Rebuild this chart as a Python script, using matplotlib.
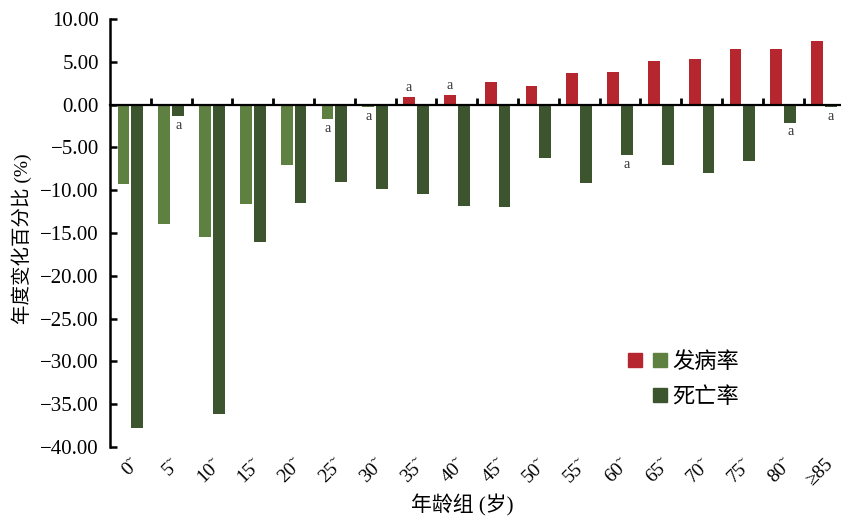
import numpy as np
import matplotlib
matplotlib.use('Agg')
import matplotlib.pyplot as plt
from matplotlib.patches import Patch
from matplotlib.legend_handler import HandlerTuple
from matplotlib.ticker import FuncFormatter

plt.rcParams['font.family'] = ['Liberation Serif', 'Noto Sans CJK SC', 'DejaVu Sans']

# age groups and annual percent change values
age_groups = ['0\u02dc', '5\u02dc', '10\u02dc', '15\u02dc', '20\u02dc', '25\u02dc',
              '30\u02dc', '35\u02dc', '40\u02dc', '45\u02dc', '50\u02dc', '55\u02dc',
              '60\u02dc', '65\u02dc', '70\u02dc', '75\u02dc', '80\u02dc', '≥85']
incidence = [-9.3, -13.9, -15.5, -11.6, -7.1, -1.7, -0.3, 0.9, 1.1,
             2.6, 2.2, 3.7, 3.8, 5.1, 5.3, 6.5, 6.5, 7.4]
mortality = [-37.8, -1.3, -36.1, -16.1, -11.5, -9.1, -9.9, -10.4, -11.8,
             -12.0, -6.2, -9.2, -5.9, -7.0, -8.0, -6.6, -2.1, -0.3]
# 1 = marked with "a"
inc_mark = [0, 0, 0, 0, 0, 1, 1, 1, 1, 0, 0, 0, 0, 0, 0, 0, 0, 0]
mort_mark = [0, 1, 0, 0, 0, 0, 0, 0, 0, 0, 0, 0, 1, 0, 0, 0, 1, 1]

red = '#B5262F'
light_green = '#5E8040'
dark_green = '#3D552E'

x = np.arange(len(age_groups))
w = 0.29
off = 0.17

fig = plt.figure(figsize=(8.41, 5.18), dpi=100)
ax = fig.add_axes([110/841, 71/518, 731/841, 428/518])

inc_colors = [red if v > 0 else light_green for v in incidence]
ax.bar(x - off, incidence, w, color=inc_colors, zorder=2)
ax.bar(x + off, mortality, w, color=dark_green, zorder=2)

for i in x:
    if inc_mark[i]:
        v = incidence[i]
        ax.annotate('a', (i - off, v), xytext=(0, 2 if v > 0 else -2),
                    textcoords='offset points', ha='center',
                    va='bottom' if v > 0 else 'top', fontsize=10, color='#333333')
    if mort_mark[i]:
        v = mortality[i]
        ax.annotate('a', (i + off, v), xytext=(0, 2 if v > 0 else -2),
                    textcoords='offset points', ha='center',
                    va='bottom' if v > 0 else 'top', fontsize=10, color='#333333')

ax.set_ylim(-40, 10)
ax.set_xlim(-0.5, -0.5 + 731/40.8)
ax.set_yticks(np.arange(-40, 11, 5))
ax.yaxis.set_major_formatter(FuncFormatter(lambda v, p: f'{v:.2f}'.replace('-', '\u2212')))
ax.tick_params(axis='y', direction='in', length=5, width=1.8, labelsize=15, pad=8)

# zero line with ticks between groups
ax.spines['bottom'].set_position(('data', 0))
ax.spines['bottom'].set_linewidth(1.6)
ax.spines['bottom'].set_zorder(3)
ax.spines['left'].set_linewidth(1.8)
ax.spines['top'].set_visible(False)
ax.spines['right'].set_visible(False)
ax.set_xticks(x[:-1] + 0.5)
ax.tick_params(axis='x', direction='in', length=5, width=2, labelbottom=False)

# category labels at the bottom
sec = ax.secondary_xaxis('bottom')
sec.set_xticks(x, labels=age_groups)
sec.spines['bottom'].set_visible(False)
sec.tick_params(length=0, pad=6, labelsize=14)
for lab in sec.get_xticklabels():
    lab.set_rotation(45)
    lab.set_ha('right')
    lab.set_va('top')
    lab.set_rotation_mode('anchor')

fig.text(462/841, 1 - 505/518, '年龄组 (岁)', fontsize=15, ha='center', va='center')

ax.set_ylabel('年度变化百分比 (%)', fontsize=14)
ax.yaxis.set_label_coords(-0.107, 0.486)

handles = [(Patch(color=red), Patch(color=light_green)),
           (Patch(facecolor='none', edgecolor='none'), Patch(color=dark_green))]
ax.legend(handles, ['发病率', '死亡率'],
          handler_map={tuple: HandlerTuple(ndivide=None, pad=0.48)},
          handlelength=1.73, handleheight=0.63, handletextpad=0.25,
          labelspacing=0.65, frameon=False, fontsize=16, borderpad=0,
          loc='upper left', bbox_to_anchor=(617/841, 1 - 341/518),
          bbox_transform=fig.transFigure)

fig.savefig('out.png', dpi=100)
